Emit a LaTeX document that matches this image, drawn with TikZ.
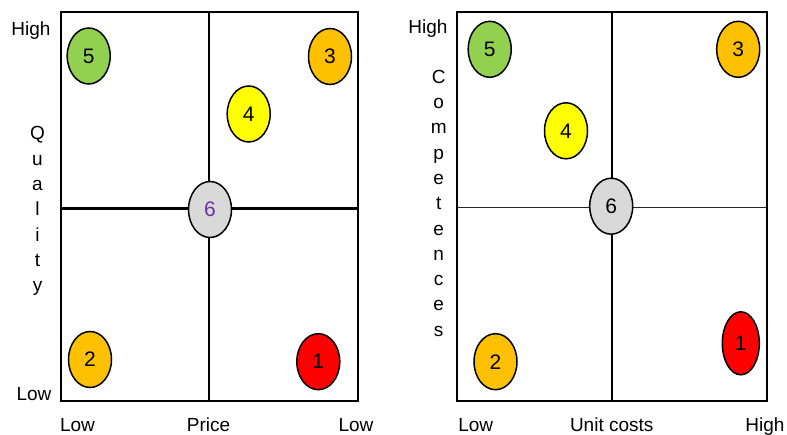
\documentclass[tikz,border=0pt]{standalone}
\usepackage{fontspec}
\setmainfont{Liberation Sans}
\usetikzlibrary{shapes.geometric}
\definecolor{cgreen}{HTML}{92D050}
\definecolor{corange}{HTML}{FFC000}
\definecolor{cyellow}{HTML}{FFFF00}
\definecolor{cred}{HTML}{FF0000}
\definecolor{cgray}{HTML}{D9D9D9}
\definecolor{cpurple}{HTML}{7030A0}
\begin{document}
\begin{tikzpicture}[x=1pt,y=-1pt,
  blob/.style={ellipse,draw=black,line width=1.5pt,minimum width=43pt,minimum height=56pt,inner sep=0pt,font=\fontsize{21}{23}\selectfont},
  lbl/.style={anchor=base,inner sep=0pt,font=\fontsize{19}{21}\selectfont},
  frame/.style={draw=black,line width=2pt}]
\useasboundingbox (0,0) rectangle (787,435);
% left panel
\draw[frame] (60.5,12) rectangle (357.5,400.7);
\draw[frame] (209,12) -- (209,400.7);
\draw[frame,line width=2.5pt] (60.5,208.3) -- (357.5,208.3);
\node[blob,fill=cgreen] (l5) at (88.7,56) {5};
\node[blob,fill=corange] (l3) at (330,56.5) {3};
\node[blob,fill=cyellow] (l4) at (248.7,114) {4};
\node[blob,fill=cgray,text=cpurple] (l6) at (210,209.5) {6};
\node[blob,fill=corange] (l2) at (90,359.5) {2};
\node[blob,fill=cred] (l1) at (318.3,361.7) {1};
\node[lbl] (lhigh) at (31,35.7) {High};
\node[lbl] (llow) at (34,400.7) {Low};
\foreach \c [count=\i from 0] in {Q,u,a,l,i,t,y}
  \node[lbl] (lq\i) at (37.5,140+25.3*\i) {\c};
\node[lbl] (lbl1) at (77.5,431) {Low};
\node[lbl] (lbl2) at (208.5,431) {Price};
\node[lbl] (lbl3) at (356,431) {Low};
% right panel
\draw[frame] (456.7,12) rectangle (767.3,400.7);
\draw[frame] (611.7,12) -- (611.7,400.7);
\draw[draw=black!85,line width=1.5pt] (456.7,207.3) -- (767.3,207.3);
\node[blob,fill=cgreen] (r5) at (489.7,49.3) {5};
\node[blob,fill=corange] (r3) at (738.2,49.3) {3};
\node[blob,fill=cyellow] (r4) at (566,130.8) {4};
\node[blob,fill=cgray] (r6) at (611.2,206.2) {6};
\node[blob,fill=corange] (r2) at (495.5,361.7) {2};
\node[blob,fill=cred,minimum width=37pt,minimum height=63pt] (r1) at (740.8,343.3) {1};
\node[lbl] (rhigh) at (428,34) {High};
\foreach \c [count=\i from 0] in {C,o,m,p,e,t,e,n,c,e,s}
  \node[lbl] (rc\i) at (438.7,83.3+25.3*\i) {\c};
\node[lbl] (rbl1) at (475.7,431) {Low};
\node[lbl] (rbl2) at (611.7,431) {Unit costs};
\node[lbl] (rbl3) at (765,431) {High};
\end{tikzpicture}
\end{document}
